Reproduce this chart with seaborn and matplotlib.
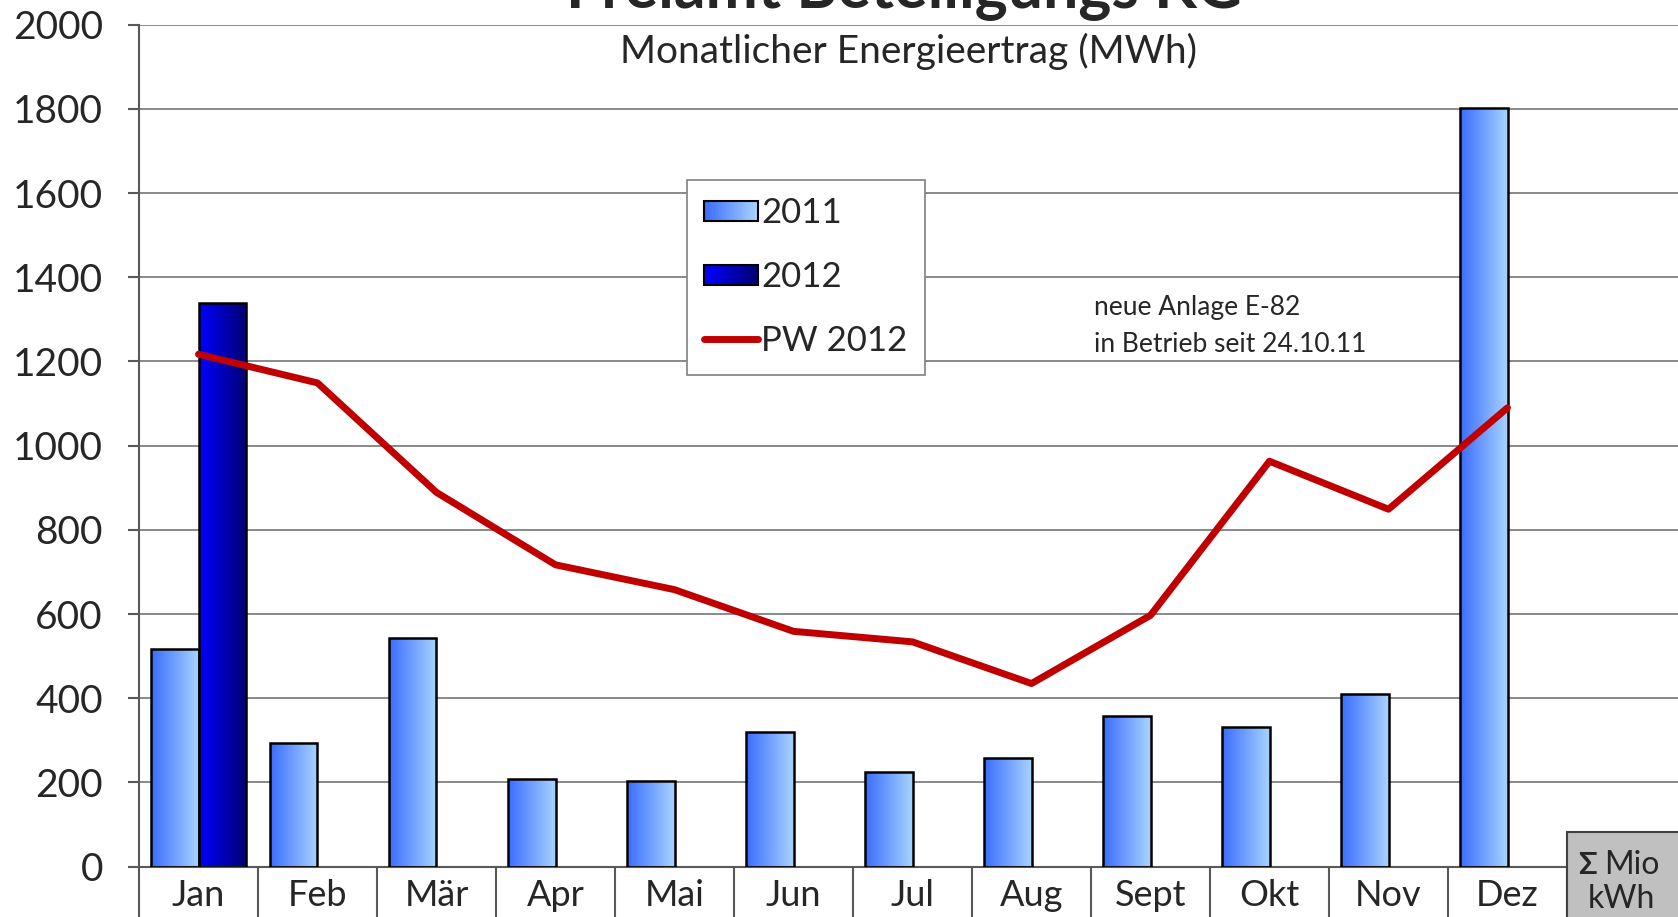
import numpy as np
import pandas as pd
import matplotlib
matplotlib.use('Agg')
import matplotlib.pyplot as plt
import seaborn as sns
from matplotlib.colors import LinearSegmentedColormap
from matplotlib.patches import Rectangle, Patch
from matplotlib.lines import Line2D
from matplotlib.legend_handler import HandlerBase

# Daten
monate = ['Jan', 'Feb', 'Mär', 'Apr', 'Mai', 'Jun', 'Jul', 'Aug', 'Sept', 'Okt', 'Nov', 'Dez']
ertrag_2011 = [518, 294, 544, 209, 204, 321, 226, 257, 359, 331, 409, 1802]
ertrag_2012 = [1339] + [np.nan] * 11
pw_2012 = [1217, 1149, 889, 717, 658, 559, 534, 435, 597, 963, 849, 1090]
jahre = ['2011', '2012']

titel = 'Freiamt Beteiligungs KG'
untertitel = 'Monatlicher Energieertrag (MWh)'
notiz = ['neue Anlage E-82', 'in Betrieb seit 24.10.11']

# Farbverlaeufe (links -> rechts)
verlauf = {'2011': ('#3a6cff', '#a8d4ff'), '2012': ('#0000ff', '#000070')}

df = pd.DataFrame({
    'Monat': monate * 2,
    'Jahr': ['2011'] * 12 + ['2012'] * 12,
    'MWh': ertrag_2011 + ertrag_2012,
})

sns.set_theme(style='white')
plt.rcParams['font.family'] = ['Lato', 'DejaVu Sans']

W, H = 1678, 917
fig = plt.figure(figsize=(W / 100, H / 100), dpi=100)
y0, y2000 = 866.7, 24.6
x_links, x_rechts = 139, 1686
ax = fig.add_axes([x_links / W, 1 - y0 / H, (x_rechts - x_links) / W, (y0 - y2000) / H])

sns.barplot(data=df, x='Monat', y='MWh', hue='Jahr', order=monate, hue_order=jahre,
            palette=[verlauf['2011'][1], verlauf['2012'][0]], edgecolor='black',
            linewidth=1.8, width=0.8, legend=False, ax=ax)

# Farbverlauf in die Balken legen
grad = np.linspace(0, 1, 256).reshape(1, -1)
for cont, jahr in zip(ax.containers, jahre):
    cmap = LinearSegmentedColormap.from_list('g' + jahr, verlauf[jahr])
    for bar in cont:
        h = bar.get_height()
        if np.isnan(h) or h == 0:
            continue
        x = bar.get_x()
        im = ax.imshow(grad, cmap=cmap, extent=(x, x + bar.get_width(), 0, h),
                       aspect='auto', zorder=2.5)
        im.set_clip_path(bar)
        bar.set_facecolor('none')
        bar.set_zorder(3)

sns.lineplot(x=np.arange(12), y=pw_2012, color='#c00000', linewidth=5,
             solid_capstyle='round', ax=ax, zorder=4)

ax.set_xlim(-0.5, 12.5)
ax.set_ylim(0, 2000)
ax.set_yticks(range(0, 2001, 200))
ax.set_xticks(range(12))
ax.set_xticklabels(monate)
ax.set_xlabel('')
ax.set_ylabel('')
ax.yaxis.grid(True, color='#808080', linewidth=1.3)
ax.set_axisbelow(True)
ax.tick_params(axis='y', length=8, width=1.5, color='#595959', labelsize=28, pad=18,
               left=True, direction='out')
ax.tick_params(axis='x', length=0, labelsize=26, pad=9)
for s in ['top', 'right']:
    ax.spines[s].set_visible(False)
for s in ['left', 'bottom']:
    ax.spines[s].set_color('#595959')
    ax.spines[s].set_linewidth(1.5)

# Tabellenlinien unter der Achse
xt = ax.get_xaxis_transform()
for k in range(13):
    ax.plot([k - 0.5, k - 0.5], [0, -0.2], transform=xt, color='#595959',
            linewidth=1.5, clip_on=False)

# graues Summenfeld
ax.add_patch(Rectangle((1567 / W, -0.02), (1700 - 1567) / W, 0.02 + 1 - 832 / H,
                       transform=fig.transFigure, facecolor='#c0c0c0', edgecolor='#404040',
                       linewidth=1.5, clip_on=False, zorder=6))
fig.text(1597 / W, 1 - 865 / H, 'Σ', ha='right', va='center', fontsize=22,
         fontweight='bold', zorder=7)
fig.text(1604 / W, 1 - 865 / H, 'Mio', ha='left', va='center', fontsize=23, zorder=7)
fig.text(1621 / W, 1 - 899 / H, 'kWh', ha='center', va='center', fontsize=23, zorder=7)

# Legende mit Farbverlauf
class VerlaufHandler(HandlerBase):
    def __init__(self, c0, c1):
        super().__init__()
        self.cmap = LinearSegmentedColormap.from_list('leg', [c0, c1])

    def create_artists(self, legend, orig_handle, xdescent, ydescent, width, height,
                       fontsize, trans):
        n = 40
        hh = height * 0.8
        yb = -ydescent + (height - hh) / 2
        teile = []
        for k in range(n):
            teile.append(Rectangle((-xdescent + width * k / n, yb), width / n * 1.1, hh,
                                   facecolor=self.cmap(k / (n - 1)), edgecolor='none',
                                   transform=trans))
        teile.append(Rectangle((-xdescent, yb), width, hh, facecolor='none',
                               edgecolor='black', linewidth=1.5, transform=trans))
        return teile

h2011 = Patch(label='2011')
h2012 = Patch(label='2012')
hpw = Line2D([], [], color='#c00000', linewidth=5, solid_capstyle='round', label='PW 2012')
leg = ax.legend(handles=[h2011, h2012, hpw],
                handler_map={h2011: VerlaufHandler(*verlauf['2011']),
                             h2012: VerlaufHandler(*verlauf['2012'])},
                loc='upper left', bbox_to_anchor=(687 / W, 1 - 180 / H),
                bbox_transform=fig.transFigure, borderaxespad=0, fontsize=25,
                frameon=True, fancybox=False, framealpha=1, edgecolor='#808080',
                handlelength=1.55, handletextpad=0.08, labelspacing=0.92,
                borderpad=0.5)
leg.get_frame().set_linewidth(1.2)
leg.set_zorder(8)

# Texte
fig.text(904 / W, 1 - 7 / H, titel, ha='center', va='baseline', fontsize=45,
         fontweight='bold')
fig.text(908 / W, 1 - 51 / H, untertitel, ha='center', va='center', fontsize=28)
fig.text(1094 / W, 1 - 307 / H, notiz[0], ha='left', va='center', fontsize=19)
fig.text(1094 / W, 1 - 345 / H, notiz[1], ha='left', va='center', fontsize=19)

fig.savefig('out.png', dpi=100)
